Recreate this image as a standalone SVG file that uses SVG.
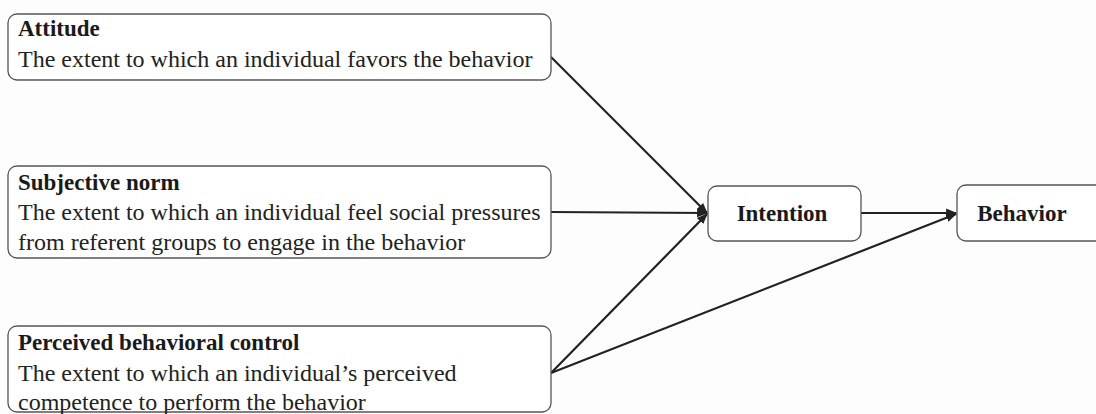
<svg xmlns="http://www.w3.org/2000/svg" width="1096" height="414" viewBox="0 0 1096 414">
<style>
.box{fill:#fff;stroke:#555;stroke-width:1.3}
.c{stroke:#222;stroke-width:2.2;fill:none;marker-end:url(#ah)}
.t{font-weight:bold;font-size:23px;fill:#1a1a1a}
</style>
<defs>
<marker id="ah" viewBox="0 0 10 10" refX="9" refY="5" markerWidth="5" markerHeight="5" orient="auto" markerUnits="strokeWidth">
<path d="M0,1 L10,5 L0,9 z" fill="#222"/>
</marker>
</defs>
<rect width="1096" height="414" fill="#fdfdfd"/>
<g id="connectors">
<line class="c" x1="551" y1="57" x2="707" y2="213"/>
<line class="c" x1="551" y1="212" x2="707" y2="213"/>
<line class="c" x1="551" y1="373" x2="707" y2="214"/>
<line class="c" x1="551" y1="373" x2="956" y2="214"/>
<line class="c" x1="861" y1="213" x2="956" y2="213"/>
</g>
<g font-family="Liberation Serif, Times New Roman, serif" font-size="24" fill="#222">
<g id="attitude">
<rect class="box" x="8" y="14" width="543" height="66" rx="9"/>
<text class="t" x="18" y="36">Attitude</text>
<text x="18" y="67">The extent to which an individual favors the behavior</text>
</g>
<g id="subjective-norm">
<rect class="box" x="8" y="166" width="543" height="92" rx="9"/>
<text class="t" x="18" y="190">Subjective norm</text>
<text x="18" y="220">The extent to which an individual feel social pressures</text>
<text x="18" y="250">from referent groups to engage in the behavior</text>
</g>
<g id="pbc">
<rect class="box" x="8" y="326" width="543" height="86" rx="9"/>
<text class="t" x="18" y="350">Perceived behavioral control</text>
<text x="18" y="381">The extent to which an individual’s perceived</text>
<text x="18" y="410">competence to perform the behavior</text>
</g>
<g id="intention">
<rect class="box" x="708" y="186" width="153" height="55" rx="9"/>
<text class="t" x="782" y="221" text-anchor="middle">Intention</text>
</g>
<g id="behavior">
<rect class="box" x="957" y="185" width="150" height="56" rx="9"/>
<text class="t" x="1022" y="221" text-anchor="middle">Behavior</text>
</g>
</g>
</svg>
